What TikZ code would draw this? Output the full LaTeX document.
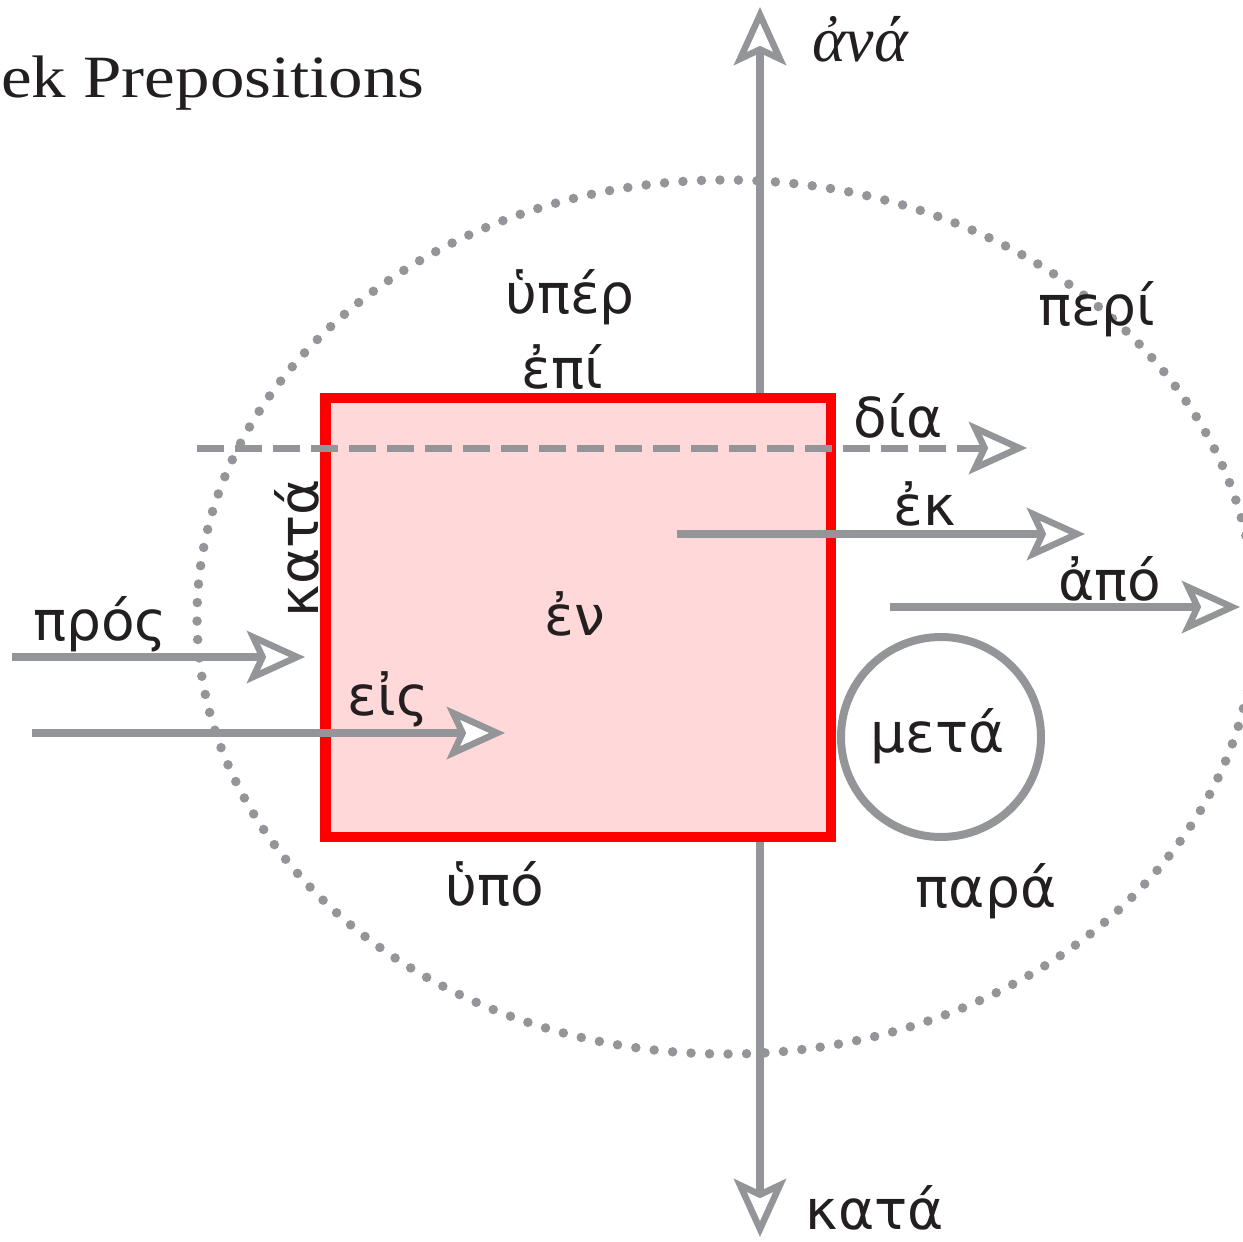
\documentclass[tikz,border=0pt]{standalone}
\usepackage{fontspec}
\setmainfont{Liberation Serif}
\newfontfamily\greekfont{DejaVu Sans}
\usetikzlibrary{arrows.meta}
\definecolor{mygray}{RGB}{147,149,152}
\definecolor{myred}{RGB}{255,0,0}
\definecolor{mypink}{RGB}{255,216,218}
\definecolor{myblack}{RGB}{35,31,32}
\tikzset{
  openhead/.tip={Stealth[length=58pt,width=52pt,inset=12pt,line width=6.5pt,fill=white]},
  ray/.style={draw=mygray,line width=8pt,-openhead},
  greek/.style={font=\greekfont\fontsize{55}{60}\selectfont,text=myblack,inner sep=0pt,anchor=base}
}
\begin{document}
\begin{tikzpicture}[x=1pt,y=-1pt]
\useasboundingbox (0,0) rectangle (1243,1242);

% title, cut at the left edge
\node[font=\fontsize{60}{64}\selectfont,text=myblack,anchor=base east,inner sep=0pt] (title) at (425,97) {\scalebox{1.15}[1]{Greek Prepositions}};

% dotted ring
\draw[mygray,line width=9.5pt,line cap=round,dash pattern=on 0pt off 18.5pt]
  (726,617) ellipse [x radius=529,y radius=437];

% up and down
\coordinate (up) at (760,7);
\coordinate (down) at (760,1237);
\draw[ray,openhead-openhead] (down) -- (up);

% the box
\node[draw=myred,fill=mypink,line width=10.5pt,minimum width=505.5pt,minimum height=439pt,inner sep=0pt] (room) at (578.25,617.5) {};

% through
\coordinate (diaS) at (197,448);
\coordinate (diaE) at (1027,448);
\draw[ray,line width=7pt,dash pattern=on 27pt off 11pt] (diaS) -- (diaE);

% in and out
\foreach \a/\b/\y [count=\i] in {12/305/657,32/505/733,677/1085/534,890/1240/607}{
  \coordinate (s\i) at (\a,\y);
  \coordinate (e\i) at (\b,\y);
  \draw[ray] (s\i) -- (e\i);
}

% with
\node[circle,draw=mygray,line width=8pt,minimum size=200pt,inner sep=0pt] (meta) at (941,737) {};

% words
\node[greek,font=\itshape\fontsize{64}{68}\selectfont] (ana) at (860,61) {ἀνά};
\foreach \x/\y/\w [count=\i] in {570/313/ὑπέρ,562/388/ἐπί,1097/325/περί,898/437/δία,925/525/ἐκ,
  1110/600/ἀπό,100/640/πρός,575/635/ἐν,388/715/εἰς,938/752/μετά,495/905/ὑπό,986/907/παρά,875/1229/κατά}{
  \node[greek] (w\i) at (\x,\y) {\w};
}
\node[greek,rotate=90] (kataside) at (318,548) {κατά};

\end{tikzpicture}
\end{document}
